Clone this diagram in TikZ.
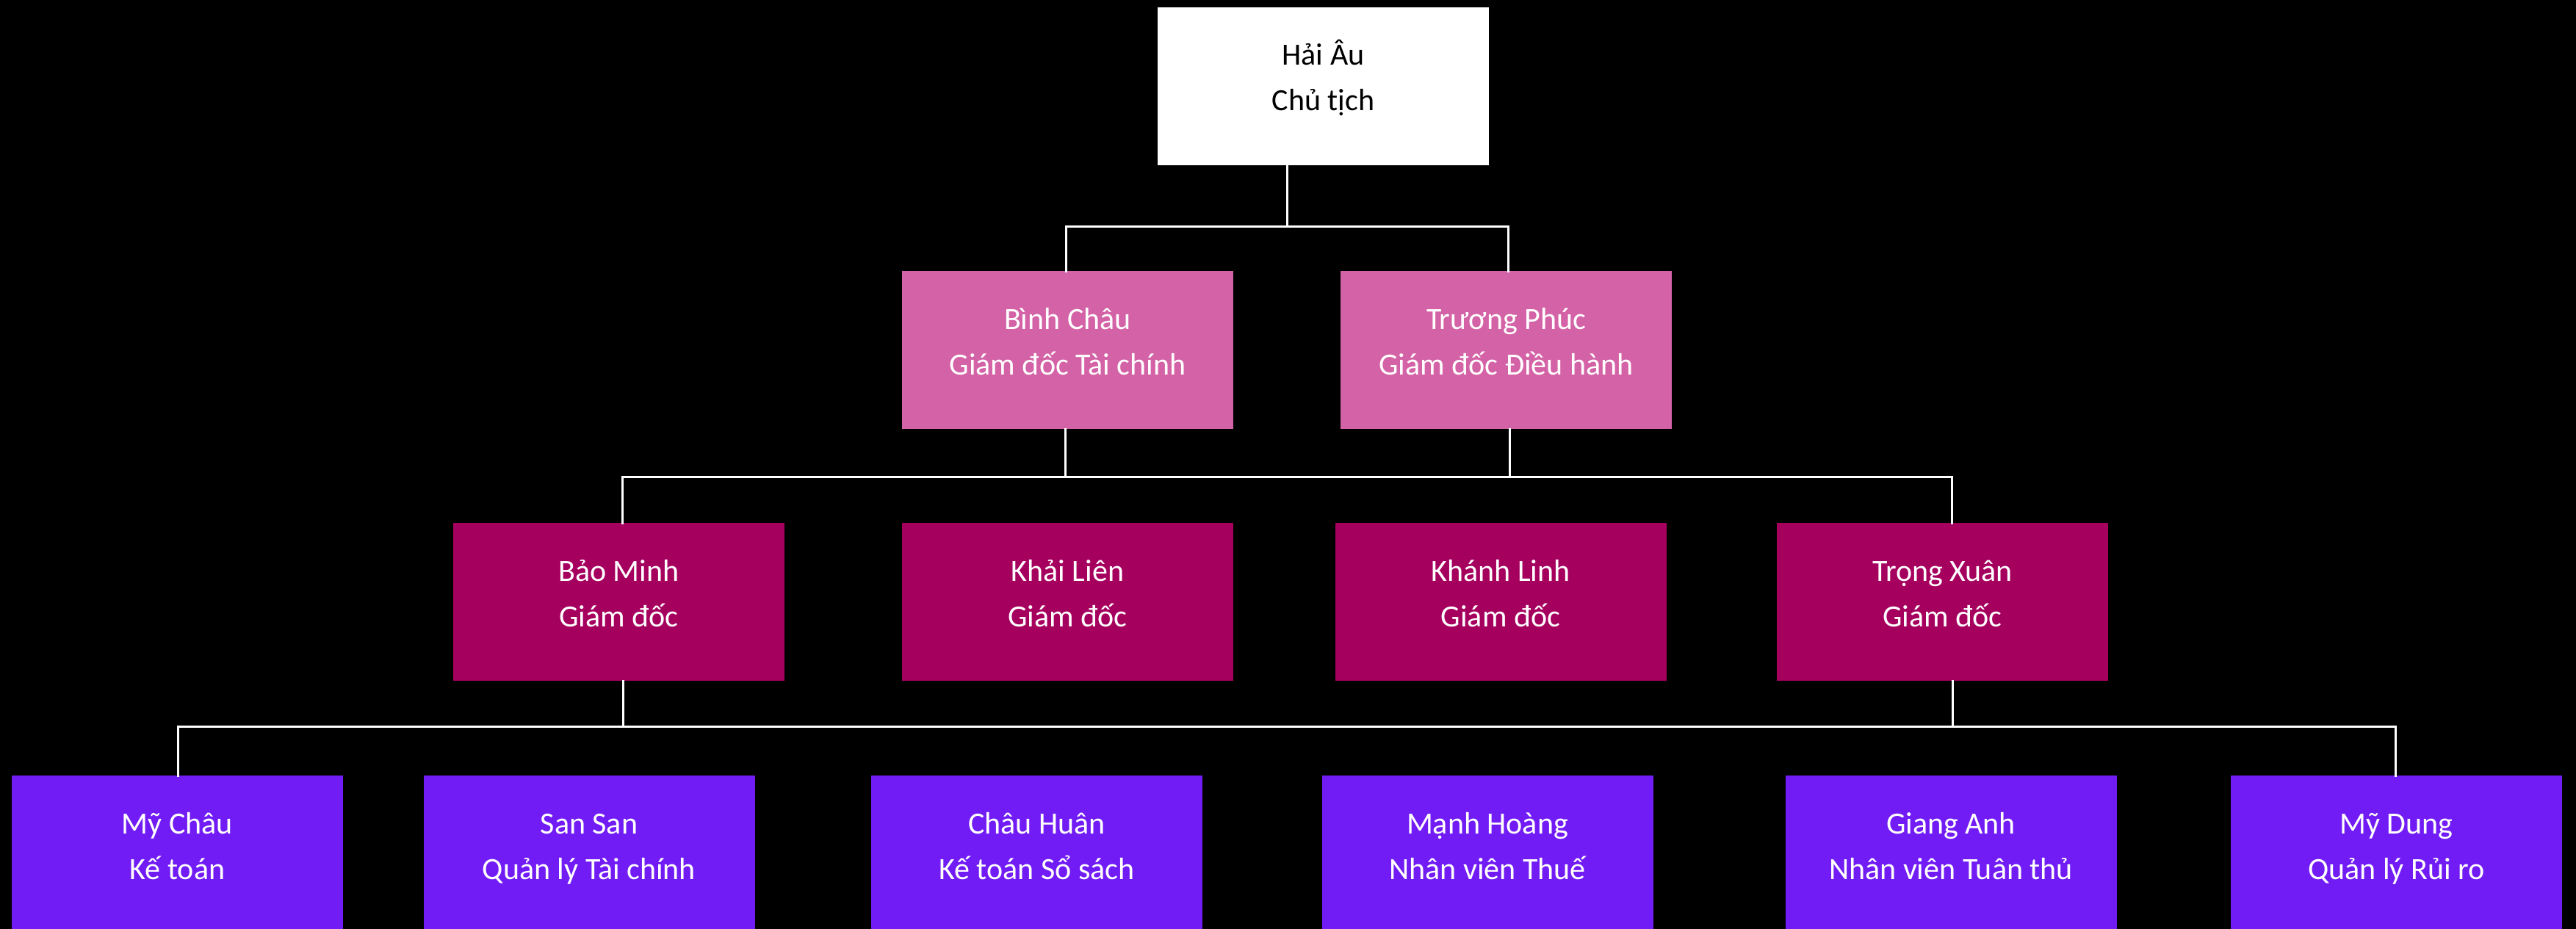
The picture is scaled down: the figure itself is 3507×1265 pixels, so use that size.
\documentclass[tikz,border=0pt]{standalone}
\usepackage{fontspec}
\setmainfont{Carlito}
\definecolor{cpink}{HTML}{D462A6}
\definecolor{cmag}{HTML}{A6005F}
\definecolor{cpurp}{HTML}{721CF5}
\tikzset{
  boxbase/.style={rectangle, draw=none, inner sep=0pt, minimum width=451pt, minimum height=215pt, anchor=north},
  topbox/.style={boxbase, fill=white},
  pinkbox/.style={boxbase, fill=cpink},
  magbox/.style={boxbase, fill=cmag},
  purpbox/.style={boxbase, fill=cpurp},
  txtk/.style={anchor=base, inner sep=0pt, text=black, font=\fontsize{42}{50}\selectfont},
  txtw/.style={anchor=base, inner sep=0pt, text=white, font=\fontsize{42}{50}\selectfont},
  conn/.style={draw=white, line width=3pt, line cap=rect, line join=miter},
}
\newcommand{\orgbox}[7]{%
  \node[#4] (#1) at (#2,#3) {};
  \node[#7] (#1-a) at ([yshift=-79pt]#1.north) {#5};
  \node[#7] (#1-b) at ([yshift=-141pt]#1.north) {#6};
}
\begin{document}
\begin{tikzpicture}[x=1pt,y=-1pt]
\clip (0,0) rectangle (3507,1265);
\fill[black] (0,0) rectangle (3507,1265);
% level 1
\orgbox{hai}{1801.5}{10}{topbox}{Hải Âu}{Chủ tịch}{txtk}
% level 2
\orgbox{binh}{1453.5}{369}{pinkbox}{Bình Châu}{Giám đốc Tài chính}{txtw}
\orgbox{truong}{2050.5}{369}{pinkbox}{Trương Phúc}{Giám đốc Điều hành}{txtw}
% level 3
\orgbox{bao}{842.5}{712}{magbox}{Bảo Minh}{Giám đốc}{txtw}
\orgbox{khai}{1453.5}{712}{magbox}{Khải Liên}{Giám đốc}{txtw}
\orgbox{khanh}{2043}{712}{magbox}{Khánh Linh}{Giám đốc}{txtw}
\orgbox{trong}{2644.5}{712}{magbox}{Trọng Xuân}{Giám đốc}{txtw}
% level 4
\orgbox{mychau}{241.5}{1056}{purpbox}{Mỹ Châu}{Kế toán}{txtw}
\orgbox{sansan}{802}{1056}{purpbox}{San San}{Quản lý Tài chính}{txtw}
\orgbox{chauhuan}{1411.5}{1056}{purpbox}{Châu Huân}{Kế toán Sổ sách}{txtw}
\orgbox{manh}{2025}{1056}{purpbox}{Mạnh Hoàng}{Nhân viên Thuế}{txtw}
\orgbox{giang}{2656}{1056}{purpbox}{Giang Anh}{Nhân viên Tuân thủ}{txtw}
\orgbox{mydung}{3262.5}{1056}{purpbox}{Mỹ Dung}{Quản lý Rủi ro}{txtw}
% junction rails
\coordinate (r1) at (0,309);
\coordinate (r2) at (0,649);
\coordinate (r3) at (0,989);
% connectors level 1 -> 2
\draw[conn] ([xshift=-49.5pt]hai.south) -- ([xshift=-49.5pt]hai.south |- r1);
\draw[conn] ([xshift=-2.5pt]binh.north) -- ([xshift=-2.5pt]binh.north |- r1) -- ([xshift=2.5pt]truong.north |- r1) -- ([xshift=2.5pt]truong.north);
% connectors level 2 -> 3
\draw[conn] ([xshift=-3.5pt]binh.south) -- ([xshift=-3.5pt]binh.south |- r2);
\draw[conn] ([xshift=4.5pt]truong.south) -- ([xshift=4.5pt]truong.south |- r2);
\draw[conn] ([xshift=4.5pt]bao.north) -- ([xshift=4.5pt]bao.north |- r2) -- ([xshift=12.5pt]trong.north |- r2) -- ([xshift=12.5pt]trong.north);
% connectors level 3 -> 4
\draw[conn] ([xshift=5.5pt]bao.south) -- ([xshift=5.5pt]bao.south |- r3);
\draw[conn] ([xshift=13.5pt]trong.south) -- ([xshift=13.5pt]trong.south |- r3);
\draw[conn] ([xshift=0.5pt]mychau.north) -- ([xshift=0.5pt]mychau.north |- r3) -- ([xshift=-1.5pt]mydung.north |- r3) -- ([xshift=-1.5pt]mydung.north);
\end{tikzpicture}
\end{document}
